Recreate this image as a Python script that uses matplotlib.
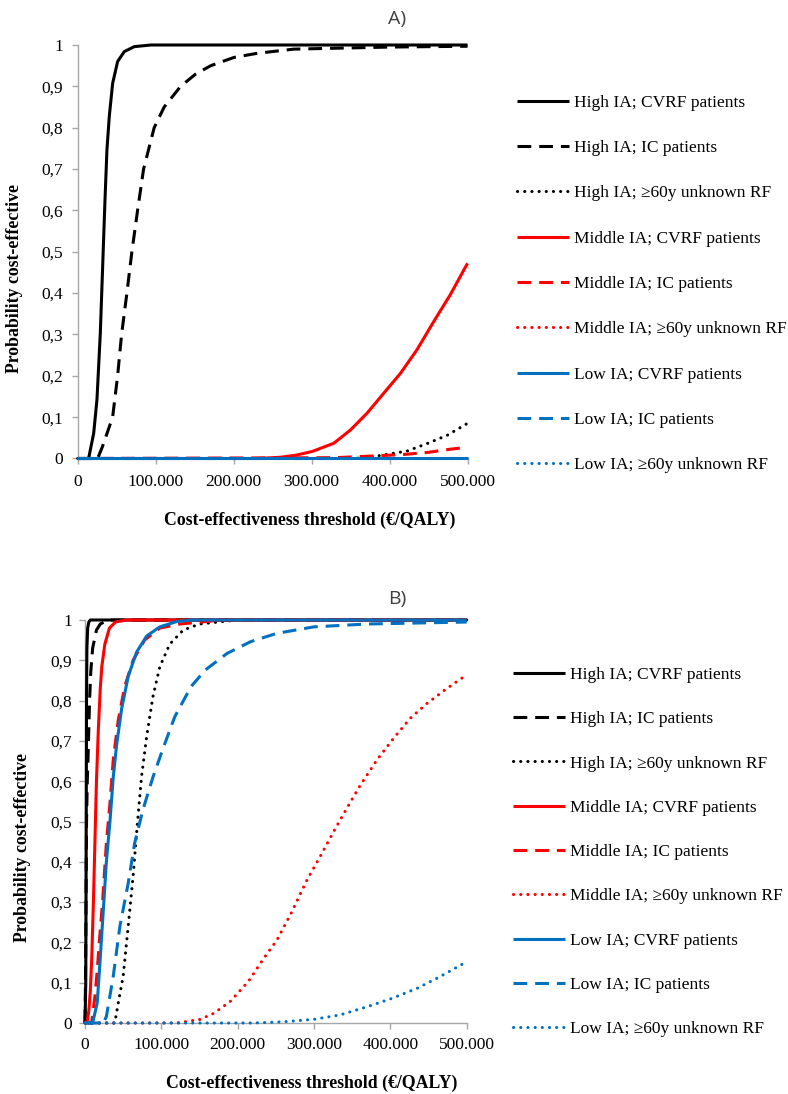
import matplotlib
matplotlib.use('Agg')
import matplotlib.pyplot as plt

plt.rcParams['font.family'] = ['Liberation Serif', 'DejaVu Serif']

# ---------------- data ----------------
labels = ["High IA; CVRF patients", "High IA; IC patients", "High IA; \u226560y unknown RF",
          "Middle IA; CVRF patients", "Middle IA; IC patients", "Middle IA; \u226560y unknown RF",
          "Low IA; CVRF patients", "Low IA; IC patients", "Low IA; \u226560y unknown RF"]

x_ticks = [0, 100000, 200000, 300000, 400000, 500000]
x_tick_labels = ["0", "100.000", "200.000", "300.000", "400.000", "500.000"]
y_ticks = [0, 0.1, 0.2, 0.3, 0.4, 0.5, 0.6, 0.7, 0.8, 0.9, 1.0]
y_tick_labels = ["0", "0,1", "0,2", "0,3", "0,4", "0,5", "0,6", "0,7", "0,8", "0,9", "1"]

# Panel A
a_high_cvrf_x = [0, 14000, 20500, 24700, 29000, 32000, 35000, 37500, 40500, 44800, 51200, 59700, 72500, 94000, 500000]
a_high_cvrf_y = [0, 0, 0.061, 0.142, 0.303, 0.464, 0.625, 0.746, 0.827, 0.907, 0.96, 0.984, 0.996, 1, 1]
a_high_ic_x = [0, 25600, 32000, 44800, 51200, 56300, 63100, 69500, 76800, 84500, 98100, 110900, 132000, 151500,
               170700, 200500, 230500, 277000, 400000, 500000]
a_high_ic_y = [0, 0, 0.03, 0.1, 0.2, 0.3, 0.4, 0.5, 0.6, 0.7, 0.8, 0.85, 0.9, 0.93, 0.95, 0.97, 0.98, 0.99, 0.995, 0.997]
a_high_60_x = [0, 350000, 371000, 397000, 422500, 448000, 473800, 500000]
a_high_60_y = [0, 0, 0.002, 0.01, 0.018, 0.036, 0.056, 0.085]
a_mid_cvrf_x = [0, 230000, 260000, 280000, 300900, 328600, 349900, 371300, 392600, 414000, 435200, 456600, 477900, 500000]
a_mid_cvrf_y = [0, 0, 0.003, 0.008, 0.017, 0.037, 0.069, 0.11, 0.158, 0.206, 0.263, 0.331, 0.396, 0.472]
a_mid_ic_x = [0, 330000, 390000, 420000, 450000, 480000, 500000]
a_mid_ic_y = [0, 0.002, 0.007, 0.01, 0.015, 0.023, 0.027]
a_mid_60_x = [0, 500000]
a_mid_60_y = [0, 0]
a_low_cvrf_x = [0, 500000]
a_low_cvrf_y = [0, 0]
a_low_ic_x = [0, 500000]
a_low_ic_y = [0, 0]
a_low_60_x = [0, 500000]
a_low_60_y = [0, 0]

# Panel B
b_high_cvrf_x = [0, 1000, 1500, 2000, 2500, 3500, 5000, 7000, 500000]
b_high_cvrf_y = [0, 0.1, 0.4, 0.8, 0.93, 0.98, 0.995, 1, 1]
b_high_ic_x = [0, 500, 1000, 1500, 2000, 3000, 4000, 5000, 6000, 7500, 10000, 15000, 20000, 30000, 500000]
b_high_ic_y = [0, 0.08, 0.2, 0.35, 0.5, 0.6, 0.66, 0.73, 0.8, 0.87, 0.93, 0.975, 0.99, 1, 1]
b_high_60_x = [0, 39000, 43600, 50000, 56600, 63000, 68400, 74000, 80700, 89000, 98000, 111000, 128600, 150000, 200000, 500000]
b_high_60_y = [0, 0, 0.05, 0.116, 0.24, 0.364, 0.49, 0.61, 0.71, 0.81, 0.884, 0.94, 0.975, 0.99, 1, 1]
b_mid_cvrf_x = [0, 3000, 5000, 7000, 9000, 11000, 13000, 15000, 17500, 20000, 22000, 26000, 32000, 40000, 54000, 500000]
b_mid_cvrf_y = [0, 0.005, 0.03, 0.08, 0.17, 0.3, 0.45, 0.6, 0.73, 0.83, 0.884, 0.94, 0.98, 0.995, 1, 1]
b_mid_ic_x = [0, 8700, 13000, 16000, 18700, 23000, 28000, 32700, 37000, 43600, 52000, 63000, 78000, 98000, 124000, 180000, 500000]
b_mid_ic_y = [0, 0, 0.066, 0.13, 0.2, 0.3, 0.446, 0.545, 0.653, 0.752, 0.835, 0.9, 0.95, 0.98, 0.99, 1, 1]
b_mid_60_x = [0, 120000, 151000, 168600, 190000, 214000, 234000, 251500, 271000, 290800, 308000, 325700, 343000,
              360600, 382500, 404000, 426000, 448000, 474000, 500000]
b_mid_60_y = [0, 0, 0.009, 0.024, 0.053, 0.103, 0.16, 0.206, 0.276, 0.355, 0.413, 0.475, 0.533, 0.59, 0.653,
              0.706, 0.756, 0.793, 0.83, 0.864]
b_low_cvrf_x = [0, 10000, 16000, 19600, 24000, 28000, 32700, 37000, 41400, 48000, 56600, 67500, 80700, 98000, 120000, 141000, 500000]
b_low_cvrf_y = [0, 0, 0.05, 0.15, 0.28, 0.4, 0.5, 0.61, 0.69, 0.78, 0.86, 0.92, 0.96, 0.983, 0.996, 1, 1]
b_low_ic_x = [0, 24000, 28000, 37000, 45700, 56600, 65000, 76000, 89000, 102000, 117600, 139000, 157700, 186000,
              216600, 251500, 300000, 369000, 500000]
b_low_ic_y = [0, 0, 0.016, 0.116, 0.24, 0.347, 0.446, 0.53, 0.61, 0.68, 0.76, 0.835, 0.876, 0.917, 0.946, 0.967,
              0.983, 0.99, 0.995]
b_low_60_x = [0, 220000, 260000, 299500, 334000, 369000, 402000, 435000, 465000, 500000]
b_low_60_y = [0, 0, 0.003, 0.009, 0.02, 0.04, 0.061, 0.086, 0.115, 0.152]

panel_a = [(a_high_cvrf_x, a_high_cvrf_y), (a_high_ic_x, a_high_ic_y), (a_high_60_x, a_high_60_y),
           (a_mid_cvrf_x, a_mid_cvrf_y), (a_mid_ic_x, a_mid_ic_y), (a_mid_60_x, a_mid_60_y),
           (a_low_cvrf_x, a_low_cvrf_y), (a_low_ic_x, a_low_ic_y), (a_low_60_x, a_low_60_y)]
panel_b = [(b_high_cvrf_x, b_high_cvrf_y), (b_high_ic_x, b_high_ic_y), (b_high_60_x, b_high_60_y),
           (b_mid_cvrf_x, b_mid_cvrf_y), (b_mid_ic_x, b_mid_ic_y), (b_mid_60_x, b_mid_60_y),
           (b_low_cvrf_x, b_low_cvrf_y), (b_low_ic_x, b_low_ic_y), (b_low_60_x, b_low_60_y)]

# ---------------- styles ----------------
BLACK, RED, BLUE = '#000000', '#FF0000', '#0070C0'
colors = [BLACK, BLACK, BLACK, RED, RED, RED, BLUE, BLUE, BLUE]
SOLID = '-'
DASH = (0, (4.5, 2.6))
DOT = (0, (0.05, 2.3))
styles = [SOLID, DASH, DOT] * 3
LW = 2.2
SPINE = '#A6A6A6'
FS = 12.5

W, H = 788, 1094
fig = plt.figure(figsize=(W / 100, H / 100), dpi=100)


def fx(px):
    return px / W


def fy(py):
    return 1 - py / H


def make_panel(rect, data, title, title_xy, xlabel_xy, ylabel_xy, legend_xy, legend_spacing, ypad, xpad):
    ax = fig.add_axes(rect)
    handles = []
    for (xs, ys), c, ls, lab in zip(data, colors, styles, labels):
        ln, = ax.plot(xs, ys, color=c, lw=LW, linestyle=ls, label=lab, clip_on=False, zorder=3,
                      dash_capstyle='round' if ls is DOT else 'butt', solid_capstyle='butt')
        handles.append(ln)
    ax.set_xlim(0, 500000)
    ax.set_ylim(0, 1)
    ax.set_xticks(x_ticks)
    ax.set_xticklabels(x_tick_labels)
    ax.set_yticks(y_ticks)
    ax.set_yticklabels(y_tick_labels)
    for s in ['top', 'right']:
        ax.spines[s].set_visible(False)
    for s in ['left', 'bottom']:
        ax.spines[s].set_color(SPINE)
        ax.spines[s].set_linewidth(1.0)
        ax.spines[s].set_zorder(1)
    ax.tick_params(axis='both', direction='out', length=4.3, width=1.0, color=SPINE,
                   labelsize=FS, labelcolor='#000000')
    ax.tick_params(axis='y', pad=ypad)
    ax.tick_params(axis='x', pad=xpad)
    ax.patch.set_visible(False)
    fig.text(fx(xlabel_xy[0]), fy(xlabel_xy[1]), "Cost-effectiveness threshold (\u20ac/QALY)",
             ha='center', va='center', fontsize=12.8, fontweight='bold')
    fig.text(fx(ylabel_xy[0]), fy(ylabel_xy[1]), "Probability cost-effective",
             ha='center', va='center', rotation=90, fontsize=12.8, fontweight='bold')
    fig.text(fx(title_xy[0]), fy(title_xy[1]), title, ha='center', va='center',
             fontsize=14, color='#404040', family=['Open Sans', 'DejaVu Sans'])
    ax.legend(handles=handles, loc='center left', bbox_to_anchor=(fx(legend_xy[0]), fy(legend_xy[1])),
              bbox_transform=fig.transFigure, frameon=False, fontsize=FS,
              handlelength=3.0, handletextpad=0.3, labelspacing=legend_spacing,
              borderpad=0, borderaxespad=0)
    return ax


make_panel([fx(77.7), fy(458.5), fx(467.5) - fx(77.7), fy(45) - fy(458.5)], panel_a,
           "A)", (397, 19), (310, 520), (15, 279), (517, 284), 1.68, 6.0, 7.0)
make_panel([fx(85), fy(1023), fx(466.7) - fx(85), fy(620) - fy(1023)], panel_b,
           "B)", (397, 599), (312, 1083), (23, 848), (513, 852), 1.62, 5.0, 5.5)

fig.savefig('out.png', dpi=100)
